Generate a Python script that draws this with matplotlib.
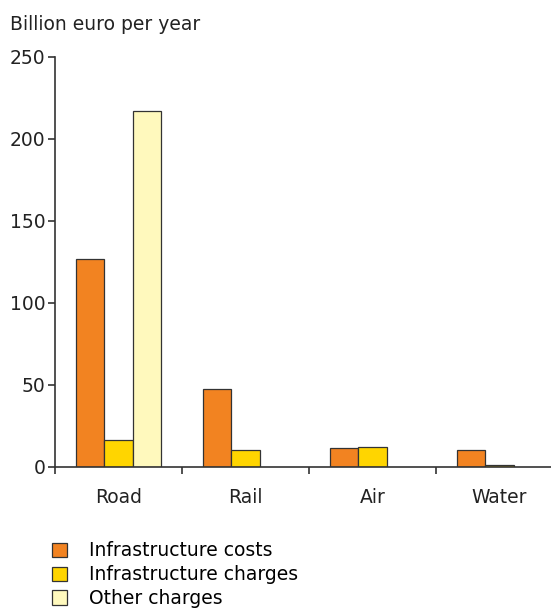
import numpy as np
import matplotlib.pyplot as plt
from matplotlib.patches import Patch

modes = ["Road", "Rail", "Air", "Water"]
infra_costs = [127, 47.5, 11.5, 10.5]
infra_charges = [16.5, 10.5, 12.5, 1.5]
other_charges = [217, 0, 0, 0]

series = [
    ("Infrastructure costs", infra_costs, "#F28321"),
    ("Infrastructure charges", infra_charges, "#FFD500"),
    ("Other charges", other_charges, "#FFF9BD"),
]

plt.rcParams['font.family'] = 'DejaVu Sans'
fs = 13.5

fig = plt.figure(figsize=(5.51, 6.10), dpi=100)
ax = fig.add_axes([55 / 551, 143 / 610, 496 / 551, 410 / 610])

x = np.arange(len(modes))
w = 0.223
for i, (name, vals, col) in enumerate(series):
    vals = np.array(vals, dtype=float)
    mask = vals > 0
    ax.bar(x[mask] + (i - 1) * w, vals[mask], width=w, color=col,
           edgecolor="#333333", linewidth=0.9)

ax.set_yticks([0, 50, 100, 150, 200, 250])
ax.set_xticks(np.arange(len(modes) + 1) - 0.5)
ax.set_xticklabels([])
ax.set_xticks(x, minor=True)
ax.set_xticklabels(modes, minor=True)
ax.set_xlim(-0.5, -0.5 + 496 / 127)
ax.set_ylim(0, 250)
ax.tick_params(axis="x", which="minor", length=0, pad=15, labelsize=fs, colors="#222222")
ax.tick_params(axis="x", which="major", length=5, width=1.2, color="#333333")
ax.tick_params(axis="y", length=5, width=1.2, color="#333333", labelsize=fs, labelcolor="#222222", pad=2)

for s in ["top", "right"]:
    ax.spines[s].set_visible(False)
for s in ["left", "bottom"]:
    ax.spines[s].set_color("#333333")
    ax.spines[s].set_linewidth(1.2)

fig.text(10 / 551, 1 - 25 / 610, "Billion euro per year", fontsize=fs,
         color="#222222", va="center", ha="left")

handles = [Patch(facecolor=col, edgecolor="#333333", linewidth=0.9, label=name)
           for name, vals, col in series]
fig.legend(handles=handles, loc="upper left", bbox_to_anchor=(44 / 551, 1 - 534 / 610),
           frameon=False, fontsize=fs, handlelength=0.8, handleheight=0.8,
           handletextpad=1.2, labelspacing=0.25, borderaxespad=0)

fig.savefig("out.png", dpi=100)
